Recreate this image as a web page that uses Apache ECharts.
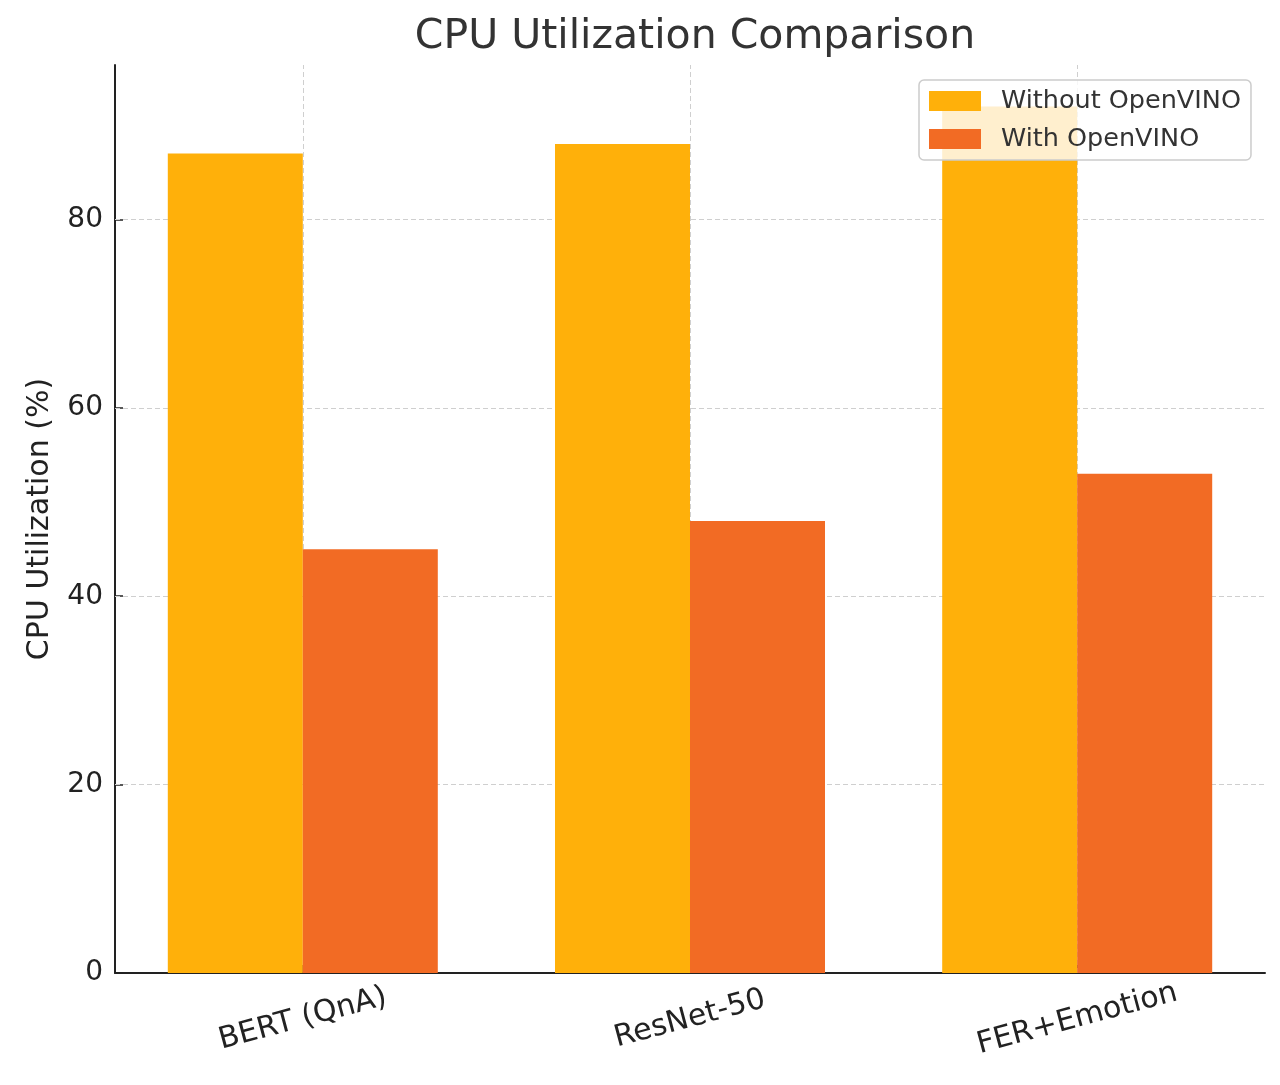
<!DOCTYPE html>
<html><head><meta charset="utf-8">
<script src="https://cdn.jsdelivr.net/npm/echarts@6/dist/echarts.min.js"></script>
<style>html,body{margin:0;padding:0;background:#fff}#c{width:1280px;height:1085px}</style>
</head><body><div id="c"></div>
<script>
const categories = ['BERT (QnA)', 'ResNet-50', 'FER+Emotion'];
const withoutOV = [87, 88, 92];
const withOV = [45, 48, 53];
const yTicks = [0, 20, 40, 60, 80];
const catPositions = [0, 1, 2];

const FONT = 'DejaVu Sans';
const chart = echarts.init(document.getElementById('c'));
chart.setOption({
  animation: false,
  textStyle: {fontFamily: FONT},
  title: {
    text: 'CPU Utilization Comparison',
    left: 690, top: 12, textAlign: 'center',
    textStyle: {fontFamily: FONT, fontSize: 41, fontWeight: 'normal', color: '#333'}
  },
  legend: {
    orient: 'vertical', left: 919, top: 80,
    data: ['Without OpenVINO', 'With OpenVINO'],
    itemWidth: 52, itemHeight: 20, itemGap: 12,
    padding: [8, 10, 8, 10],
    backgroundColor: 'rgba(255,255,255,0.8)',
    borderColor: '#cccccc', borderWidth: 1.5, borderRadius: 5,
    icon: 'rect',
    textStyle: {fontFamily: FONT, fontSize: 25.5, color: '#333', padding: [0, 0, 0, 15]}
  },
  grid: {left: 115, right: 15, top: 65, bottom: 112, containLabel: false},
  xAxis: {
    type: 'value', min: -0.485, max: 2.485,
    axisLine: {show: true, onZero: false, lineStyle: {color: '#222', width: 2}},
    axisTick: {show: true, customValues: catPositions, inside: true, length: 8, lineStyle: {color: '#222', width: 1.5}},
    axisLabel: {
      customValues: catPositions,
      formatter: v => categories[Math.round(v)] || '',
      rotate: 15, align: 'center', verticalAlign: 'middle', margin: 46,
      fontFamily: FONT, fontSize: 30, color: '#222'
    },
    splitLine: {show: false}
  },
  yAxis: {
    type: 'value', min: 0, max: 96.4,
    name: 'CPU Utilization (%)', nameLocation: 'middle', nameGap: 60,
    nameTextStyle: {fontFamily: FONT, fontSize: 30, color: '#222'},
    axisLine: {show: true, onZero: false, lineStyle: {color: '#222', width: 2}},
    axisTick: {show: true, customValues: yTicks, inside: true, length: 8, lineStyle: {color: '#222', width: 1.5}},
    axisLabel: {customValues: yTicks, fontFamily: FONT, fontSize: 28, color: '#222', margin: 12},
    splitLine: {show: false}
  },
  series: [
    {
      name: 'grid', type: 'line', data: [], z: 1, silent: true,
      markLine: {
        silent: true, symbol: 'none', z: 1, label: {show: false},
        lineStyle: {color: '#cfcfcf', type: [5, 3], width: 1},
        data: yTicks.filter(v => v > 0).map(v => ({yAxis: v})).concat(catPositions.map(v => ({xAxis: v})))
      }
    },
    {
      name: 'Without OpenVINO', type: 'bar', z: 3,
      data: catPositions.map((x, i) => [x, withoutOV[i]]),
      barWidth: 135, barGap: '0%',
      itemStyle: {color: '#FFB00A'}
    },
    {
      name: 'With OpenVINO', type: 'bar', z: 3,
      data: catPositions.map((x, i) => [x, withOV[i]]),
      barWidth: 135, barGap: '0%',
      itemStyle: {color: '#F26B24'}
    }
  ]
});
</script></body></html>
